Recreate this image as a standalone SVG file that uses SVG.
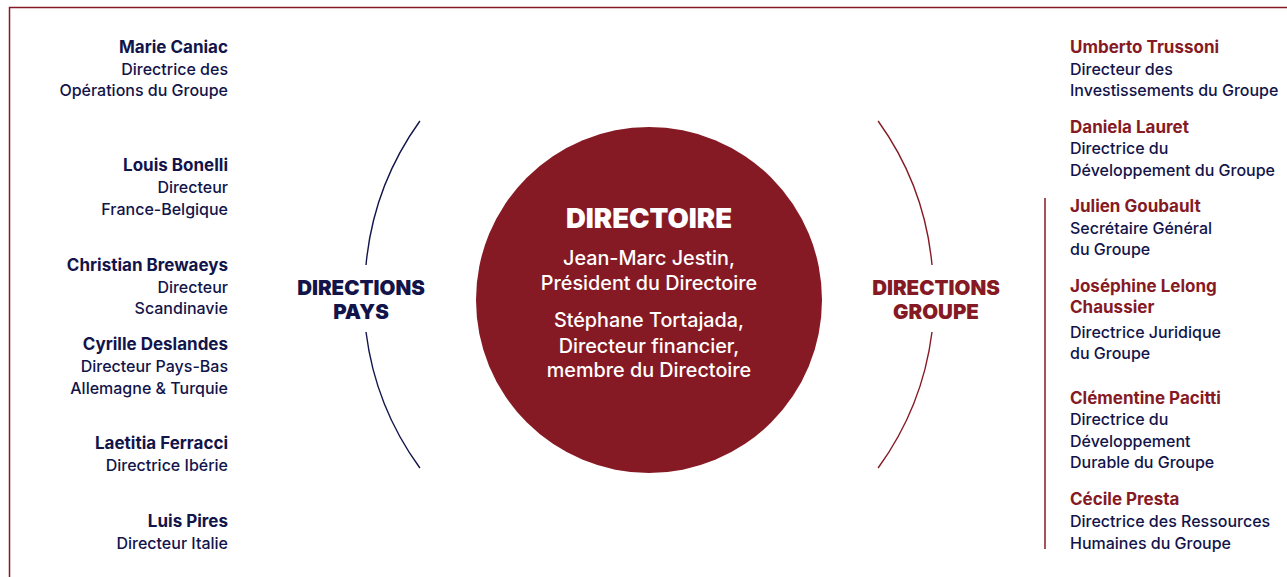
<svg xmlns="http://www.w3.org/2000/svg" width="1287" height="577" viewBox="0 0 1287 577">
  <style>
    text { font-family: Inter, "Noto Sans", "Liberation Sans", sans-serif; }
    .name { font-size: 17px; font-weight: 700; }
    .role { font-size: 16px; font-weight: 500; }
    .navy { fill: #12144a; }
    .red { fill: #861a24; }
    .left text { text-anchor: end; }
    .head { font-size: 20.5px; font-weight: 900; text-anchor: middle; }
    .core { fill: #ffffff; text-anchor: middle; }
    .core .title { font-size: 27.5px; font-weight: 900; }
    .core .line { font-size: 19.8px; font-weight: 500; }
    .arc-pays { fill: none; stroke: #12144a; stroke-width: 1.4; }
    .arc-groupe { fill: none; stroke: #861a24; stroke-width: 1.4; }
  </style>

  <rect width="1287" height="577" fill="#ffffff"/>
  <!-- frame -->
  <path d="M9.5 577 V7.5 H1287" fill="none" stroke="#861a24" stroke-width="1.5"/>

  <!-- arcs -->
  <g id="connectors">
    <path class="arc-pays" d="M419.9 121 A293 293 0 0 0 366 265"/>
    <path class="arc-pays" d="M366 332 A293 293 0 0 0 419.9 468"/>
    <path class="arc-groupe" d="M878.1 121 A293 293 0 0 1 932 265"/>
    <path class="arc-groupe" d="M932 332 A293 293 0 0 1 878.1 468"/>
    <line x1="1045" y1="198" x2="1045" y2="549" stroke="#861a24" stroke-width="1.5"/>
  </g>

  <!-- centre -->
  <g id="directoire" class="core">
    <circle cx="649" cy="300" r="173" fill="#861a24"/>
    <text class="title" x="649" y="228">DIRECTOIRE</text>
    <text class="line" x="649" y="265">Jean-Marc Jestin,</text>
    <text class="line" x="649" y="290">Président du Directoire</text>
    <text class="line" x="649" y="327">Stéphane Tortajada,</text>
    <text class="line" x="649" y="353">Directeur financier,</text>
    <text class="line" x="649" y="377">membre du Directoire</text>
  </g>

  <g id="directions-pays" class="navy">
    <text class="head" x="361" y="295">DIRECTIONS</text>
    <text class="head" x="361" y="319">PAYS</text>
  </g>
  <g id="directions-groupe" class="red">
    <text class="head" x="936" y="295">DIRECTIONS</text>
    <text class="head" x="936" y="319">GROUPE</text>
  </g>

  <!-- country heads -->
  <g class="left navy">
    <g id="marie-caniac">
      <text class="name" x="228" y="53">Marie Caniac</text>
      <text class="role" x="228" y="75">Directrice des</text>
      <text class="role" x="228" y="96">Opérations du Groupe</text>
    </g>
    <g id="louis-bonelli">
      <text class="name" x="228" y="171">Louis Bonelli</text>
      <text class="role" x="228" y="193">Directeur</text>
      <text class="role" x="228" y="215">France-Belgique</text>
    </g>
    <g id="christian-brewaeys">
      <text class="name" x="228" y="271">Christian Brewaeys</text>
      <text class="role" x="228" y="293">Directeur</text>
      <text class="role" x="228" y="314">Scandinavie</text>
    </g>
    <g id="cyrille-deslandes">
      <text class="name" x="228" y="350">Cyrille Deslandes</text>
      <text class="role" x="228" y="372">Directeur Pays-Bas</text>
      <text class="role" x="228" y="394">Allemagne &amp; Turquie</text>
    </g>
    <g id="laetitia-ferracci">
      <text class="name" x="228" y="449">Laetitia Ferracci</text>
      <text class="role" x="228" y="471">Directrice Ibérie</text>
    </g>
    <g id="luis-pires">
      <text class="name" x="228" y="527">Luis Pires</text>
      <text class="role" x="228" y="549">Directeur Italie</text>
    </g>
  </g>

  <!-- group heads -->
  <g class="right">
    <g id="umberto-trussoni">
      <text class="name red" x="1070" y="53">Umberto Trussoni</text>
      <text class="role navy" x="1070" y="75">Directeur des</text>
      <text class="role navy" x="1070" y="96">Investissements du Groupe</text>
    </g>
    <g id="daniela-lauret">
      <text class="name red" x="1070" y="133">Daniela Lauret</text>
      <text class="role navy" x="1070" y="154">Directrice du</text>
      <text class="role navy" x="1070" y="176">Développement du Groupe</text>
    </g>
    <g id="julien-goubault">
      <text class="name red" x="1070" y="212">Julien Goubault</text>
      <text class="role navy" x="1070" y="234">Secrétaire Général</text>
      <text class="role navy" x="1070" y="255">du Groupe</text>
    </g>
    <g id="josephine-lelong-chaussier">
      <text class="name red" x="1070" y="292">Joséphine Lelong</text>
      <text class="name red" x="1070" y="313">Chaussier</text>
      <text class="role navy" x="1070" y="338">Directrice Juridique</text>
      <text class="role navy" x="1070" y="359">du Groupe</text>
    </g>
    <g id="clementine-pacitti">
      <text class="name red" x="1070" y="404">Clémentine Pacitti</text>
      <text class="role navy" x="1070" y="425">Directrice du</text>
      <text class="role navy" x="1070" y="447">Développement</text>
      <text class="role navy" x="1070" y="468">Durable du Groupe</text>
    </g>
    <g id="cecile-presta">
      <text class="name red" x="1070" y="505">Cécile Presta</text>
      <text class="role navy" x="1070" y="527">Directrice des Ressources</text>
      <text class="role navy" x="1070" y="549">Humaines du Groupe</text>
    </g>
  </g>
</svg>
